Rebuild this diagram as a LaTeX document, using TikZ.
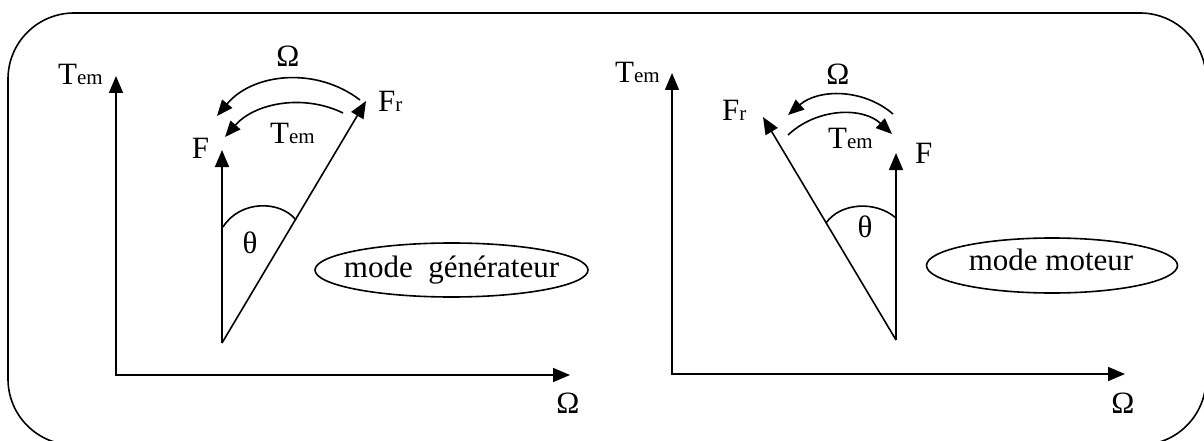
\documentclass[tikz,border=0pt]{standalone}
\usepackage{fontspec}
\setmainfont{Liberation Serif}
\usetikzlibrary{arrows.meta,shapes.geometric}
\newcommand\smallpart[1]{{\fontsize{21}{24}\selectfont #1}}
\begin{document}
\begin{tikzpicture}[x=1pt,y=-1pt,
  every node/.style={inner sep=0pt, font=\fontsize{31}{36}\selectfont},
  thinline/.style={line width=1.6pt},
  vec/.style={thinline, -{Triangle[length=17pt,width=14pt]}},
  axis/.style={thinline, {Triangle[length=17pt,width=14pt]}-{Triangle[length=17pt,width=14pt]}},
  rot/.style={thinline, -{Triangle[length=16pt,width=13pt]}},
  modebox/.style={draw, ellipse, thinline, inner sep=0pt}
]
\useasboundingbox (0,0) rectangle (1204,441);
\clip (0,0) rectangle (1204,441);
\fill[white] (0,0) rectangle (1204,441);
% frame
\draw[thinline, rounded corners=66pt] (8,13) rectangle (1206,445);

% ---------- left: mode generateur ----------
\coordinate (Y1) at (116,76);
\coordinate (O1) at (116,375);
\coordinate (X1) at (570,375);
\draw[axis] (Y1) -- (O1) -- (X1);
\node[anchor=base west] (T1) at (58,85) {T\smallpart{em}};
\node[anchor=base] (W1) at (568,413) {Ω};

\coordinate (P1) at (222,343);
\coordinate (F1tip) at (222,150);
\coordinate (R1tip) at (366,101);
\draw[vec] (P1) -- (F1tip);
\draw[vec] (P1) -- (R1tip);
\node[anchor=base] (F1) at (200.5,158) {F};
\node[anchor=base west] (R1) at (378,112) {F\smallpart{r}};

\coordinate (A1a) at (223,227);
\coordinate (A1b) at (296,220);
\draw[thinline] (A1a) .. controls (240,200) and (280,200) .. (A1b);
\node[anchor=base] (TH1) at (250,253) {θ};

\coordinate (OmS1) at (360,100);
\coordinate (OmE1) at (217,116);
\draw[rot] (OmS1) .. controls (315.8,66.1) and (252.6,73.2) .. (OmE1);
\node[anchor=base] (OmL1) at (288,67) {Ω};
\coordinate (TeS1) at (343,113);
\coordinate (TeE1) at (225,137);
\draw[rot] (TeS1) .. controls (302.8,93.4) and (254.4,103.3) .. (TeE1);
\node[anchor=base west] (TeL1) at (270,143) {T\smallpart{em}};

\node[modebox, minimum width=273pt, minimum height=54pt] (M1) at (451.5,270) {};
\node[anchor=base] (M1t) at (451.5,277) {mode\ \ générateur};

% ---------- right: mode moteur ----------
\coordinate (Y2) at (672,73);
\coordinate (O2) at (672,374);
\coordinate (X2) at (1125,374);
\draw[axis] (Y2) -- (O2) -- (X2);
\node[anchor=base west] (T2) at (615,83) {T\smallpart{em}};
\node[anchor=base] (W2) at (1123,413) {Ω};

\coordinate (P2) at (896,340);
\coordinate (F2tip) at (896,153);
\coordinate (R2tip) at (763,117);
\draw[vec] (P2) -- (F2tip);
\draw[vec] (P2) -- (R2tip);
\node[anchor=base west] (F2) at (915,164) {F};
\node[anchor=base west] (R2) at (722,121) {F\smallpart{r}};

\coordinate (A2a) at (826,223);
\coordinate (A2b) at (896,218);
\draw[thinline] (A2a) .. controls (840,203) and (875,200) .. (A2b);
\node[anchor=base] (TH2) at (865,237) {θ};

\coordinate (OmS2) at (893,114);
\coordinate (OmE2) at (788,115);
\draw[rot] (OmS2) .. controls (862.5,87.9) and (818,89) .. (OmE2);
\node[anchor=base] (OmL2) at (838,85) {Ω};
\coordinate (TeS2) at (788,135);
\coordinate (TeE2) at (892,134);
\draw[rot] (TeS2) .. controls (817,107.7) and (862.5,106.7) .. (TeE2);
\node[anchor=base west] (TeL2) at (828,148) {T\smallpart{em}};

\node[modebox, minimum width=251pt, minimum height=55pt] (M2) at (1052,265.5) {};
\node[anchor=base] (M2t) at (1051,270) {mode moteur};
\end{tikzpicture}
\end{document}
